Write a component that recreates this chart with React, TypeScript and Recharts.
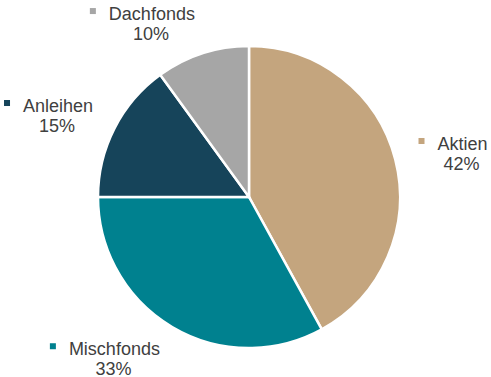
import React from "react";
import { PieChart, Pie, Cell } from "recharts";

// Fund allocation
const categories = ["Aktien", "Mischfonds", "Anleihen", "Dachfonds"];
const shares = [42, 33, 15, 10];
const colors = ["#C4A57E", "#00818F", "#16445A", "#A6A6A6"];

const data = categories.map((name, i) => ({ name, value: shares[i] }));

const FONT = "18px 'Liberation Sans', Arial, sans-serif";
const RAD = Math.PI / 180;

let ctx: CanvasRenderingContext2D | null = null;
const textWidth = (s: string) => {
  if (!ctx) ctx = document.createElement("canvas").getContext("2d");
  if (!ctx) return s.length * 9;
  ctx.font = FONT;
  return ctx.measureText(s).width;
};

const renderLabel = (props: any) => {
  const { cx, cy, midAngle, outerRadius, name, value, index } = props;
  const cos = Math.cos(-midAngle * RAD);
  const sin = Math.sin(-midAngle * RAD);
  const ax = cx + (outerRadius + 24) * cos;
  const baseline = cy + 185 * sin - 1;
  const w = textWidth(name);
  // key square + gap sits left of the name
  const left = cos >= 0 ? ax : ax - w - 19;
  const nameX = left + 19;
  const mid = nameX + w / 2;
  return (
    <g key={`lbl-${index}`}>
      <rect x={left} y={baseline - 12} width={6} height={6} fill={colors[index]} />
      <text x={nameX} y={baseline} fill="#404040" fontSize={18} fontFamily="'Liberation Sans', Arial, sans-serif" textAnchor="start">
        {name}
      </text>
      <text x={mid - 1} y={baseline + 20} fill="#404040" fontSize={18} fontFamily="'Liberation Sans', Arial, sans-serif" textAnchor="middle">
        {`${value}%`}
      </text>
    </g>
  );
};

export default function App() {
  return (
    <div style={{ position: "absolute", left: 0, top: 0, background: "#fff" }}>
      <PieChart width={491} height={377} margin={{ top: 0, right: 0, bottom: 0, left: 0 }}>
        <Pie
          data={data}
          dataKey="value"
          nameKey="name"
          cx={249}
          cy={197}
          outerRadius={151}
          startAngle={90}
          endAngle={-270}
          stroke="#ffffff"
          strokeWidth={2.5}
          label={renderLabel}
          labelLine={false}
          isAnimationActive={false}
        >
          {data.map((d, i) => (
            <Cell key={d.name} fill={colors[i]} />
          ))}
        </Pie>
      </PieChart>
    </div>
  );
}
